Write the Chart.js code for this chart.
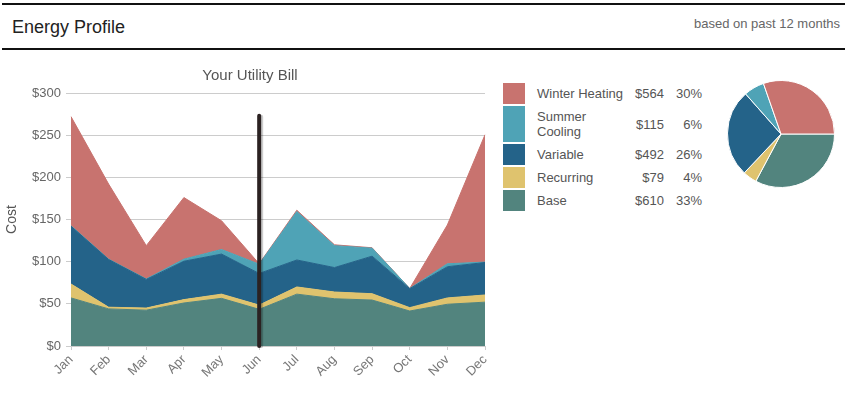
<!DOCTYPE html>
<html>
<head>
<meta charset="utf-8">
<script src="https://cdn.jsdelivr.net/npm/chart.js@4"></script>
<style>
  body { margin: 0; width: 845px; height: 397px; background: #fff; position: relative; overflow: hidden;
         font-family: "Liberation Sans", Arial, sans-serif; }
  .rule { position: absolute; left: 2px; right: 0; height: 2px; background: #111; }
  #head { position: absolute; left: 12px; top: 18px; font-size: 18px; line-height: 18px; color: #222; }
  #sub { position: absolute; right: 5px; top: 17px; font-size: 13px; line-height: 13px; color: #666; }
  #bill { position: absolute; left: 0; top: 55px; }
  #pie { position: absolute; left: 727px; top: 80px; }
  #legend { position: absolute; left: 503px; top: 81px; border-collapse: separate; border-spacing: 0 2px;
            font-size: 13px; color: #555; }
  #legend td { padding: 3px 0; line-height: 15px; vertical-align: middle; }
  #legend td.sw { width: 22px; padding: 0; }
  #legend td.lb { padding-left: 12px; width: 94px; }
  #legend td.val { width: 33px; text-align: right; }
  #legend td.pct { width: 38px; text-align: right; }
</style>
</head>
<body>
<div class="rule" style="top:3px"></div>
<div id="head">Energy Profile</div>
<div id="sub">based on past 12 months</div>
<div class="rule" style="top:48px"></div>

<canvas id="bill" width="500" height="342"></canvas>
<table id="legend"><tbody></tbody></table>
<canvas id="pie" width="108" height="108"></canvas>

<script>
const months = ["Jan", "Feb", "Mar", "Apr", "May", "Jun", "Jul", "Aug", "Sep", "Oct", "Nov", "Dec"];

// monthly cost per component, stacked bottom to top
const base      = [57, 44, 42.5, 51, 56.5, 43.5, 61.5, 56, 54.5, 41.5, 49.5, 52];
const recurring = [16.5, 2, 2.5, 4, 5, 5, 8.5, 8, 7.5, 4, 7.5, 8.5];
const variable  = [68.5, 56.5, 34, 45.5, 47.5, 37.5, 32, 29, 44.5, 22.5, 37, 38.5];
const cooling   = [0.5, 0.5, 0.5, 2.5, 5.5, 11, 57.5, 26, 9.5, 0.2, 3.5, 0.5];
const heating   = [129.5, 89, 39.5, 73, 34, 0.5, 1.5, 1, 0.5, 0, 46, 151];

// legend / pie summary (legend order)
const categories = ["Winter Heating", "Summer Cooling", "Variable", "Recurring", "Base"];
const totals = [564, 115, 492, 79, 610];
const shares = [30, 6, 26, 4, 33];
const colors = ["#c8736f", "#4fa3b6", "#246389", "#dfc36e", "#52847e"];

const yTicks = [0, 50, 100, 150, 200, 250, 300];
const markerMonth = "Jun";
const markerTop = 273;

// legend table
const tbody = document.querySelector("#legend tbody");
categories.forEach((name, i) => {
  tbody.insertAdjacentHTML("beforeend",
    `<tr><td class="sw" style="background:${colors[i]}"></td><td class="lb">${name}</td>` +
    `<td class="val">$${totals[i]}</td><td class="pct">${shares[i]}%</td></tr>`);
});

const series = [heating, cooling, variable, recurring, base];
const datasets = [];
for (let i = series.length - 1; i >= 0; i--) {
  datasets.push({
    label: categories[i],
    data: series[i],
    backgroundColor: colors[i],
    borderColor: colors[i],
    borderWidth: 1,
    pointRadius: 0,
    tension: 0,
    fill: datasets.length === 0 ? "origin" : "-1"
  });
}

const marker = {
  id: "marker",
  afterDatasetsDraw(chart) {
    const x = chart.scales.x.getPixelForValue(months.indexOf(markerMonth));
    const top = chart.scales.y.getPixelForValue(markerTop);
    const bottom = chart.scales.y.getPixelForValue(0);
    const ctx = chart.ctx;
    ctx.save();
    ctx.lineCap = "round";
    ctx.strokeStyle = "rgba(0,0,0,0.2)";
    ctx.lineWidth = 4;
    ctx.beginPath(); ctx.moveTo(x + 2, top + 1); ctx.lineTo(x + 2, bottom); ctx.stroke();
    ctx.strokeStyle = "#2b2222";
    ctx.lineWidth = 4;
    ctx.beginPath(); ctx.moveTo(x, top); ctx.lineTo(x, bottom); ctx.stroke();
    ctx.restore();
  }
};

new Chart(document.getElementById("bill"), {
  type: "line",
  data: { labels: months, datasets: datasets },
  plugins: [marker],
  options: {
    responsive: false,
    animation: false,
    layout: { padding: 0 },
    plugins: {
      legend: { display: false },
      tooltip: { enabled: false },
      title: {
        display: true,
        text: "Your Utility Bill",
        color: "#555",
        font: { family: "Liberation Sans", size: 15, weight: "normal" },
        padding: { top: 12, bottom: 8 }
      }
    },
    scales: {
      x: {
        grid: { drawOnChartArea: false, color: "#ccc", tickLength: 4 },
        border: { color: "#ccc" },
        ticks: { color: "#777", font: { family: "Liberation Sans", size: 13 }, minRotation: 45, maxRotation: 45, padding: 2 },
        afterFit(s) { s.height = 51; s.paddingLeft = 0; s.paddingRight = 15; }
      },
      y: {
        stacked: true,
        min: 0,
        max: 300,
        afterBuildTicks(s) { s.ticks = yTicks.map(v => ({ value: v })); },
        grid: { color: "#ccc", tickLength: 5 },
        border: { display: false },
        ticks: { color: "#666", font: { family: "Liberation Sans", size: 13 }, padding: 5, callback: v => "$" + v },
        title: { display: true, text: "Cost", color: "#555", font: { family: "Liberation Sans", size: 14 }, padding: { top: 4, bottom: 0 } },
        afterFit(s) { s.width = 71; }
      }
    }
  }
});

// pie, drawn clockwise from 3 o'clock starting with Base
new Chart(document.getElementById("pie"), {
  type: "pie",
  data: {
    labels: categories.slice().reverse(),
    datasets: [{
      data: totals.slice().reverse(),
      backgroundColor: colors.slice().reverse(),
      borderColor: "#fff",
      borderWidth: 1
    }]
  },
  options: {
    responsive: false,
    animation: false,
    rotation: 90,
    plugins: { legend: { display: false }, tooltip: { enabled: false } }
  }
});
</script>
</body>
</html>
